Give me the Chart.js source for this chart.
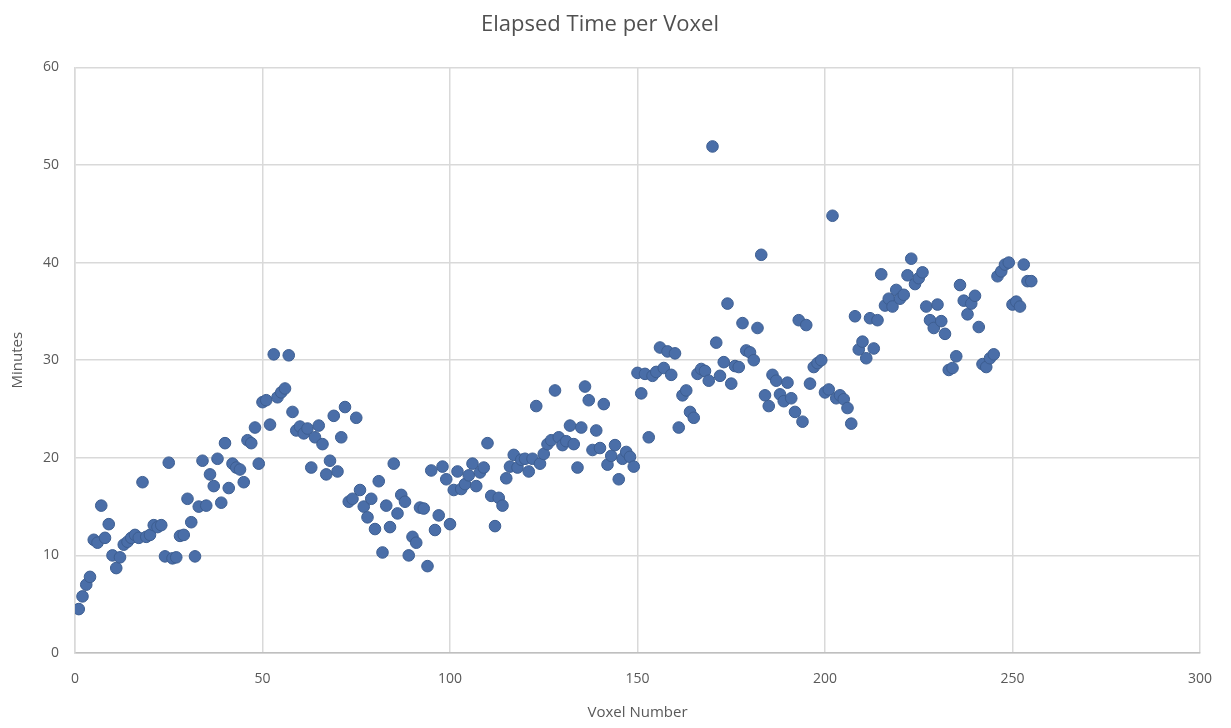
<!DOCTYPE html>
<html>
<head>
<meta charset="utf-8">
<script src="https://cdn.jsdelivr.net/npm/chart.js@4/dist/chart.umd.min.js"></script>
<style>
	html, body { margin: 0; padding: 0; background: #fff; }
	#wrap { width: 1231px; height: 728px; }
</style>
</head>
<body>
<div id="wrap"><canvas id="chart"></canvas></div>
<script>
// Minutes for each voxel (voxel number = index + 1)
const minutes = [
	4.5, 5.8, 7.0, 7.8, 11.6, 11.3, 15.1, 11.8, 13.2, 10.0,
	8.7, 9.8, 11.1, 11.4, 11.8, 12.1, 11.8, 17.5, 11.9, 12.1,
	13.1, 12.9, 13.1, 9.9, 19.5, 9.7, 9.8, 12.0, 12.1, 15.8,
	13.4, 9.9, 15.0, 19.7, 15.1, 18.3, 17.1, 19.9, 15.4, 21.5,
	16.9, 19.4, 19.0, 18.8, 17.5, 21.8, 21.5, 23.1, 19.4, 25.7,
	25.9, 23.4, 30.6, 26.2, 26.7, 27.1, 30.5, 24.7, 22.8, 23.2,
	22.5, 23.0, 19.0, 22.1, 23.3, 21.4, 18.3, 19.7, 24.3, 18.6,
	22.1, 25.2, 15.5, 15.8, 24.1, 16.7, 15.0, 13.9, 15.8, 12.7,
	17.6, 10.3, 15.1, 12.9, 19.4, 14.3, 16.2, 15.5, 10.0, 11.9,
	11.3, 14.9, 14.8, 8.9, 18.7, 12.6, 14.1, 19.1, 17.8, 13.2,
	16.7, 18.6, 16.8, 17.3, 18.2, 19.4, 17.1, 18.5, 19.0, 21.5,
	16.1, 13.0, 15.9, 15.1, 17.9, 19.1, 20.3, 19.0, 19.8, 19.9,
	18.6, 19.9, 25.3, 19.4, 20.4, 21.4, 21.8, 26.9, 22.1, 21.3,
	21.7, 23.3, 21.4, 19.0, 23.1, 27.3, 25.9, 20.8, 22.8, 21.0,
	25.5, 19.3, 20.2, 21.3, 17.8, 19.9, 20.6, 20.1, 19.1, 28.7,
	26.6, 28.6, 22.1, 28.4, 28.8, 31.3, 29.2, 30.9, 28.5, 30.7,
	23.1, 26.4, 26.9, 24.7, 24.1, 28.6, 29.1, 28.9, 27.9, 51.9,
	31.8, 28.4, 29.8, 35.8, 27.6, 29.4, 29.3, 33.8, 31.0, 30.8,
	30.0, 33.3, 40.8, 26.4, 25.3, 28.5, 27.9, 26.5, 25.8, 27.7,
	26.1, 24.7, 34.1, 23.7, 33.6, 27.6, 29.3, 29.7, 30.0, 26.7,
	27.0, 44.8, 26.1, 26.4, 26.0, 25.1, 23.5, 34.5, 31.1, 31.9,
	30.2, 34.3, 31.2, 34.1, 38.8, 35.6, 36.3, 35.5, 37.2, 36.3,
	36.7, 38.7, 40.4, 37.8, 38.4, 39.0, 35.5, 34.1, 33.3, 35.7,
	34.0, 32.7, 29.0, 29.2, 30.4, 37.7, 36.1, 34.7, 35.8,
	36.6, 33.4, 29.6, 29.3, 30.2, 30.6, 38.6, 39.1, 39.8,
	40.0, 35.7, 36.0, 35.5, 39.8, 38.1, 38.1
];
const xTicks = [0, 50, 100, 150, 200, 250, 300];
const yTicks = [0, 10, 20, 30, 40, 50, 60];

const points = minutes.map((m, i) => ({ x: i + 1, y: m }));

const grey = '#595959';
const gridGrey = '#d9d9d9';
const fontFamily = '"Open Sans", "Liberation Sans", sans-serif';

const ctx = document.getElementById('chart').getContext('2d');
const chart = new Chart(ctx, {
	type: 'scatter',
	data: {
		datasets: [{
			label: 'Minutes',
			data: points,
			backgroundColor: '#4a6ea8',
			borderColor: '#3d5e91',
			borderWidth: 1,
			pointRadius: 5.8,
			pointHoverRadius: 5.8
		}]
	},
	options: {
		responsive: true,
		maintainAspectRatio: false,
		animation: false,
		layout: { padding: { left: 0, right: 31, top: 0, bottom: 0 } },
		plugins: {
			legend: { display: false },
			tooltip: { enabled: false },
			title: {
				display: true,
				text: 'Elapsed Time per Voxel',
				color: '#505050',
				font: { family: fontFamily, size: 22, weight: 'normal' },
				padding: { top: 12, bottom: 29 }
			}
		},
		scales: {
			x: {
				type: 'linear',
				min: 0,
				max: 300,
				afterBuildTicks: (axis) => { axis.ticks = xTicks.map(v => ({ value: v })); },
				afterFit: (axis) => { axis.height = 75; },
				grid: { color: gridGrey, drawTicks: false, lineWidth: 1.5 },
				border: { color: '#bfbfbf', width: 1.5 },
				ticks: { color: grey, font: { family: fontFamily, size: 14 }, padding: 18 },
				title: {
					display: true,
					text: 'Voxel Number',
					color: grey,
					font: { family: fontFamily, size: 15 },
					padding: { top: 4, bottom: 6 }
				}
			},
			y: {
				type: 'linear',
				min: 0,
				max: 60,
				afterBuildTicks: (axis) => { axis.ticks = yTicks.map(v => ({ value: v })); },
				afterFit: (axis) => { axis.width = 75; },
				grid: { color: gridGrey, drawTicks: false, lineWidth: 1.5 },
				border: { color: gridGrey, width: 1.5 },
				ticks: { color: grey, font: { family: fontFamily, size: 14 }, padding: 16 },
				title: {
					display: true,
					text: 'Minutes',
					color: grey,
					font: { family: fontFamily, size: 15 },
					padding: { top: 9, bottom: 4 }
				}
			}
		}
	}
});
</script>
</body>
</html>
